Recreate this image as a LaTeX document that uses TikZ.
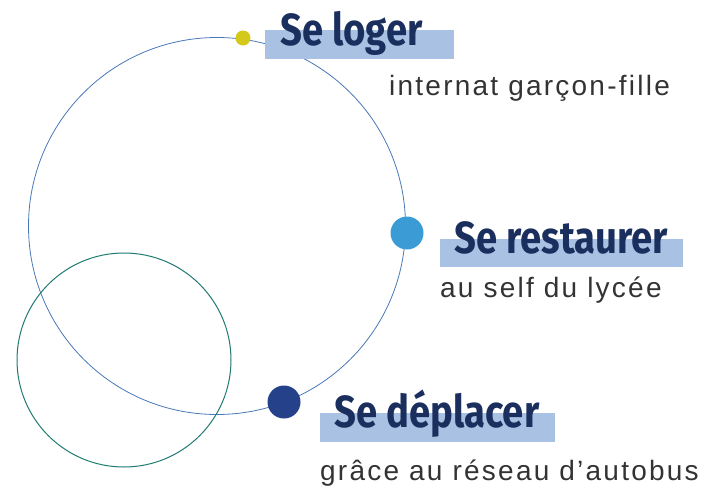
\documentclass[tikz,border=0pt]{standalone}
\usepackage{fontspec}
\usepackage{graphicx}
\newfontfamily\titrefont{Fira Sans}
\newfontfamily\textefont[LetterSpace=8]{Liberation Sans}
\definecolor{marine}{HTML}{1B2F5E}
\definecolor{bandeau}{HTML}{A9C1E2}
\definecolor{orbite}{HTML}{4A78B8}
\definecolor{sarcelle}{HTML}{1F7A70}
\definecolor{jaune}{HTML}{D4C81A}
\definecolor{ciel}{HTML}{3A9BD5}
\definecolor{nuit}{HTML}{24418A}
\definecolor{gristexte}{HTML}{333333}
\newcommand{\etroit}[1]{\scalebox{0.85}[1]{#1}}
\tikzset{
  titre/.style={anchor=base west, inner sep=0pt, text=marine,
    font=\titrefont\bfseries\fontsize{45}{45}\selectfont},
  soustitre/.style={anchor=base west, inner sep=0pt, text=gristexte,
    font=\textefont\fontsize{28}{28}\selectfont},
  bande/.style={fill=bandeau},
  point/.style={circle, inner sep=0pt},
}
\begin{document}
\begin{tikzpicture}[x=1pt, y=-1pt]
    \useasboundingbox (0,0) rectangle (719,485);

    % Cercles
    \draw[orbite, line width=0.8pt] (217,226) circle (188.5);
    \draw[sarcelle, line width=1pt] (124,360) circle (107);

    % Bandeaux
    \fill[bande] (265,30) rectangle (454,59);
    \fill[bande] (440,239) rectangle (683,267);
    \fill[bande] (320,413) rectangle (555,442);

    % Titres
    \node[titre] (loger) at (280,45) {\etroit{Se loger}};
    \node[titre] (restaurer) at (454,253) {\etroit{Se restaurer}};
    \node[titre] (deplacer) at (334,427) {\etroit{Se déplacer}};

    % Sous-titres
    \node[soustitre] (internat) at (389,95) {internat garçon-fille};
    \node[soustitre] (self) at (440,297) {au self du lycée};
    \node[soustitre] (autobus) at (320,480) {grâce au réseau d’autobus};

    % Points sur le cercle
    \node[point, fill=jaune, minimum size=15pt] (pj) at (243,38) {};
    \node[point, fill=ciel, minimum size=33pt] (pc) at (407,233) {};
    \node[point, fill=nuit, minimum size=33pt] (pn) at (284,402) {};
\end{tikzpicture}
\end{document}
